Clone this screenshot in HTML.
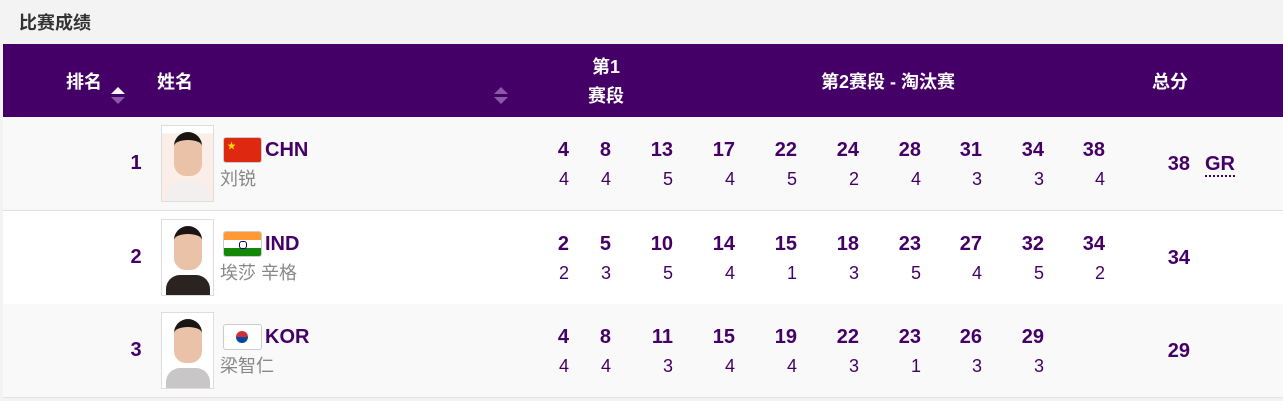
<!DOCTYPE html>
<html><head><meta charset="utf-8"><style>
body{margin:0;width:1283px;height:401px;background:#f3f3f3;position:relative;overflow:hidden;font-family:"Liberation Sans","Noto Sans CJK SC",sans-serif}
.a{position:absolute;white-space:nowrap}
.h{color:#fff;font-weight:bold;font-size:18px;line-height:20px}
.t{color:#440066;font-weight:bold;font-size:20px;line-height:22px;text-align:right;width:40px}
.b{color:#440066;font-size:18px;line-height:22px;text-align:right;width:40px}
.row{position:absolute;left:3px;width:1280px;height:93px;border-bottom:1px solid #e2e2e2}
.up{width:0;height:0;border-left:7px solid transparent;border-right:7px solid transparent;border-bottom:7px solid #fff}
.dn{width:0;height:0;border-left:7px solid transparent;border-right:7px solid transparent;border-top:7px solid #8a5aa8}
</style></head><body>
<div class="a" style="left:19px;top:12px;font-size:18px;font-weight:bold;color:#333;line-height:22px">比赛成绩</div>
<div class="a" style="left:3px;top:44px;width:1280px;height:73px;background:#440066"></div>
<div class="a h" style="left:66px;top:72px">排名</div>
<div class="a up" style="left:111px;top:87px"></div><div class="a dn" style="left:111px;top:97px"></div>
<div class="a h" style="left:157px;top:72px">姓名</div>
<div class="a up" style="left:494px;top:87px;border-bottom-color:#8a5aa8"></div><div class="a dn" style="left:494px;top:97px"></div>
<div class="a h" style="left:588px;top:57px;width:36px;text-align:center">第1</div>
<div class="a h" style="left:587px;top:86px;width:38px;text-align:center">赛段</div>
<div class="a h" style="left:821px;top:72px">第2赛段 - 淘汰赛</div>
<div class="a h" style="left:1152px;top:72px">总分</div>
<div class="row" style="top:117px;background:#f9f9f9"></div>
<div class="row" style="top:211px;background:#fff"></div>
<div class="row" style="top:304px;background:#f9f9f9"></div>
<div id="c"></div>
<script>
var cols=[569,611,673,735,797,859,921,982,1044,1105];
var rows=[
{y:117,r:1,c:"CHN",n:"刘锐",t:[4,8,13,17,22,24,28,31,34,38],b:[4,4,5,4,5,2,4,3,3,4],s:38,gr:1,f:"chn",p:"#f2efee"},
{y:211,r:2,c:"IND",n:"埃莎 辛格",t:[2,5,10,14,15,18,23,27,32,34],b:[2,3,5,4,1,3,5,4,5,2],s:34,f:"ind",p:"#2b2320"},
{y:304,r:3,c:"KOR",n:"梁智仁",t:[4,8,11,15,19,22,23,26,29],b:[4,4,3,4,4,3,1,3,3],s:29,f:"kor",p:"#c9c6c8"}];
var h="";
rows.forEach(function(o){var y=o.y;
h+='<div class="a" style="left:126px;top:'+(y+35)+'px;width:20px;text-align:center;color:#440066;font-weight:bold;font-size:20px">'+o.r+'</div>';
h+='<div class="a" style="left:161px;top:'+(y+8)+'px;width:53px;height:77px;background:linear-gradient(#fff 0,#fff 10%,'+(o.f=="chn"?"#fbeee8":"#ffffff")+' 10%);border:1px solid #ddd;box-sizing:border-box"><div style="position:absolute;left:12px;top:6px;width:28px;height:36px;border-radius:14px 14px 12px 12px;background:#e9c2a8;border-top:8px solid #1a1412"></div><div style="position:absolute;left:4px;bottom:0;width:44px;height:20px;border-radius:14px 14px 0 0;background:'+o.p+'"></div></div>';
var fl='';
if(o.f=="chn")fl='background:#de2910';
if(o.f=="ind")fl='background:linear-gradient(#ff9933 33%,#fff 33%,#fff 67%,#138808 67%)';
if(o.f=="kor")fl='background:#fff';
h+='<div class="a" style="left:224px;top:'+(y+21)+'px;width:37px;height:24px;border-radius:2px;'+fl+';box-shadow:0 0 0 1px #ccc">'+(o.f=="chn"?'<span style="position:absolute;left:3px;top:1px;color:#ffde00;font-size:9px">★</span>':'')+(o.f=="kor"?'<span style="position:absolute;left:12px;top:6px;width:12px;height:12px;border-radius:6px;background:linear-gradient(#cd2e3a 50%,#0047a0 50%)"></span>':'')+(o.f=="ind"?'<span style="position:absolute;left:15px;top:9px;width:6px;height:6px;border-radius:3px;border:1px solid #000080"></span>':'')+'</div>';
h+='<div class="a" style="left:265px;top:'+(y+22)+'px;color:#440066;font-weight:bold;font-size:20px;line-height:22px">'+o.c+'</div>';
h+='<div class="a" style="left:220px;top:'+(y+51)+'px;color:#888;font-size:18px;line-height:22px">'+o.n+'</div>';
o.t.forEach(function(v,i){h+='<div class="a t" style="left:'+(cols[i]-40)+'px;top:'+(y+22)+'px">'+v+'</div>';
h+='<div class="a b" style="left:'+(cols[i]-40)+'px;top:'+(y+51)+'px">'+o.b[i]+'</div>';});
h+='<div class="a t" style="left:1150px;top:'+(y+36)+'px">'+o.s+'</div>';
if(o.gr)h+='<div class="a" style="left:1205px;top:'+(y+36)+'px;color:#440066;font-weight:bold;font-size:20px;line-height:22px;border-bottom:2px dotted #440066">GR</div>';
});
document.getElementById("c").innerHTML=h;
</script>
</body></html>
